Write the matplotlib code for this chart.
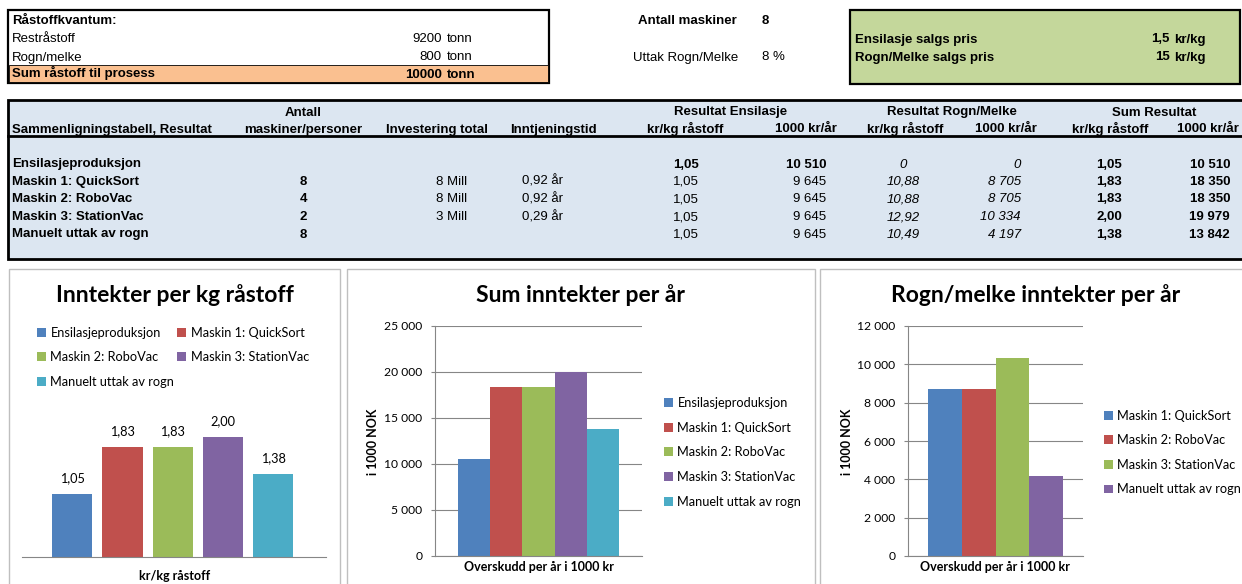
import matplotlib
matplotlib.use("Agg")
import matplotlib.pyplot as plt
from matplotlib.patches import Rectangle, Patch
from matplotlib.ticker import FuncFormatter, MultipleLocator

W, H = 1242, 584

# top input block
raw_labels = ["Restråstoff", "Rogn/melke"]
raw_tonn = [9200, 800]
raw_sum = 10000
antall_maskiner = 8
uttak_pct = 8
price_labels = ["Ensilasje salgs pris", "Rogn/Melke salgs pris"]
price_values = ["1,5", "15"]

# comparison table
categories = [
    "Ensilasjeproduksjon",
    "Maskin 1: QuickSort",
    "Maskin 2: RoboVac",
    "Maskin 3: StationVac",
    "Manuelt uttak av rogn",
]
antall = ["", "8", "4", "2", "8"]
investering = ["", "8 Mill", "8 Mill", "3 Mill", ""]
inntjening = ["", "0,92 år", "0,92 år", "0,29 år", ""]
ens_kr_kg = [1.05, 1.05, 1.05, 1.05, 1.05]
ens_1000 = [10510, 9645, 9645, 9645, 9645]
rogn_kr_kg = [0, 10.88, 10.88, 12.92, 10.49]
rogn_1000 = [0, 8705, 8705, 10334, 4197]
sum_kr_kg = [1.05, 1.83, 1.83, 2.00, 1.38]
sum_1000 = [10510, 18350, 18350, 19979, 13842]

colors = ["#4F81BD", "#C0504D", "#9BBB59", "#8064A2", "#4BACC6"]

TABLE_FONT = ["Liberation Sans Narrow", "Liberation Sans", "DejaVu Sans"]
CHART_FONT = ["Lato", "DejaVu Sans"]
GRAY = "#868686"


def dec(v):
    return "0" if v == 0 else f"{v:.2f}".replace(".", ",")


def thousands(v, pos=None):
    return f"{v:,.0f}".replace(",", " ")


fig = plt.figure(figsize=(W / 100, H / 100), dpi=100)
bg = fig.add_axes([0, 0, 1, 1])
bg.set_xlim(0, W)
bg.set_ylim(H, 0)
bg.axis("off")


def cell(x, y, s, ha="left", weight="normal", style="normal", size=9.5):
    # y is the visual middle of the row; text sits on a shared baseline
    bg.text(x, y + 4.5, s, ha=ha, va="baseline", fontsize=size, fontweight=weight,
            fontstyle=style, family=TABLE_FONT, color="black")


def px_axes(x0, y0, x1, y1):
    return fig.add_axes([x0 / W, 1 - y1 / H, (x1 - x0) / W, (y1 - y0) / H])


# --- top left box
bg.add_patch(Rectangle((8, 10), 541, 73, facecolor="white", edgecolor="black", lw=1.6))
bg.add_patch(Rectangle((9, 65), 539, 17, facecolor="#FAC090", edgecolor="black", lw=0.6))
cell(12, 20, "Råstoffkvantum:", weight="bold")
for i, (lab, t) in enumerate(zip(raw_labels, raw_tonn)):
    y = 38 + i * 18
    cell(12, y, lab)
    cell(442, y, str(t), ha="right")
    cell(447, y, "tonn")
cell(12, 73, "Sum råstoff til prosess", weight="bold")
cell(442, 73, str(raw_sum), ha="right", weight="bold")
cell(447, 73, "tonn", weight="bold")

# --- middle info
cell(737, 20, "Antall maskiner", ha="right", weight="bold")
cell(762, 20, str(antall_maskiner), weight="bold")
cell(738, 56, "Uttak Rogn/Melke", ha="right")
cell(762, 56, f"{uttak_pct} %")

# --- green price box
bg.add_patch(Rectangle((850, 10), 390, 74, facecolor="#C4D79B", edgecolor="black", lw=1.6))
for i, (lab, v) in enumerate(zip(price_labels, price_values)):
    y = 38 + i * 18
    cell(855, y, lab, weight="bold")
    cell(1170, y, v, ha="right", weight="bold")
    cell(1174, y, "kr/kg", weight="bold")

# --- comparison table
bg.add_patch(Rectangle((8, 100), 1250, 159, facecolor="#DCE6F1", edgecolor="black", lw=2))
bg.plot([8, 1250], [136, 136], color="black", lw=2)
cell(303, 112, "Antall", ha="center", weight="bold")
cell(731, 111, "Resultat Ensilasje", ha="center", weight="bold")
cell(952, 111, "Resultat Rogn/Melke", ha="center", weight="bold")
cell(1154, 111, "Sum Resultat", ha="center", weight="bold")
header = [
    (12, "Sammenligningstabell, Resultat", "left"),
    (303, "maskiner/personer", "center"),
    (437, "Investering total", "center"),
    (553, "Inntjeningstid", "center"),
    (685, "kr/kg råstoff", "center"),
    (806, "1000 kr/år", "center"),
    (905, "kr/kg råstoff", "center"),
    (1006, "1000 kr/år", "center"),
    (1110, "kr/kg råstoff", "center"),
    (1208, "1000 kr/år", "center"),
]
for x, s, ha in header:
    cell(x, 128, s, ha=ha, weight="bold")

for i, cat in enumerate(categories):
    y = 163 + i * 17.5
    first = "bold" if i == 0 else "normal"
    cell(12, y, cat, weight="bold")
    cell(303, y, antall[i], ha="center", weight="bold")
    cell(467, y, investering[i], ha="right")
    cell(522, y, inntjening[i])
    cell(686, y, dec(ens_kr_kg[i]), ha="center", weight=first)
    cell(826, y, thousands(ens_1000[i]), ha="right", weight=first)
    cell(903, y, dec(rogn_kr_kg[i]), ha="center", style="italic")
    cell(1021, y, thousands(rogn_1000[i]), ha="right", style="italic")
    cell(1109, y, dec(sum_kr_kg[i]), ha="center", weight="bold")
    cell(1230, y, thousands(sum_1000[i]), ha="right", weight="bold")

# --- chart panels
for x0, x1 in [(9, 340), (347, 815), (820, 1250)]:
    bg.add_patch(Rectangle((x0, 269), x1 - x0, 330, facecolor="white", edgecolor="#BFBFBF", lw=1))


def chart_text(x, y, s, size=9, weight="normal", **kw):
    bg.text(x, y, s, ha="center", va="center", fontsize=size, fontweight=weight,
            family=CHART_FONT, **kw)


def square_legend(ax, labels, cols, anchor, ncol=1, labelspacing=1.0, colspacing=0.8):
    handles = [Patch(facecolor=c, edgecolor="none", label=l) for l, c in zip(labels, cols)]
    leg = ax.legend(handles=handles, loc="upper left", bbox_to_anchor=anchor,
                    bbox_transform=bg.transData, ncol=ncol, frameon=False,
                    handlelength=0.7, handleheight=0.7, handletextpad=0.35,
                    labelspacing=labelspacing, columnspacing=colspacing,
                    borderpad=0, borderaxespad=0,
                    prop={"family": CHART_FONT, "size": 9.2})
    return leg


# chart 1: kr/kg
ax1 = px_axes(22, 380, 326, 557)
xs = list(range(len(categories)))
bars = ax1.bar(xs, sum_kr_kg, width=0.8, color=colors)
ax1.bar_label(bars, labels=[dec(v) for v in sum_kr_kg], padding=7,
              fontsize=9.2, family=CHART_FONT)
ax1.set_xlim(-1.0, 5.05)
ax1.set_ylim(0, (557 - 380) / 60)
ax1.set_yticks([])
ax1.set_xticks([])
for s in ["top", "right", "left"]:
    ax1.spines[s].set_visible(False)
ax1.spines["bottom"].set_color(GRAY)
chart_text(175, 295, "Inntekter per kg råstoff", size=16.5, weight="bold")
chart_text(175, 576, "kr/kg råstoff", weight="bold")
order = [0, 2, 4, 1, 3]
square_legend(ax1, [categories[k] for k in order], [colors[k] for k in order],
              (37, 327), ncol=2, labelspacing=0.97, colspacing=0.25)


def value_chart(rect, values, labels, cols, ymax, step, title, title_x, ylab_x, leg_anchor):
    ax = px_axes(*rect)
    n = len(values)
    w = 0.775 / n
    for i, (v, c) in enumerate(zip(values, cols)):
        ax.bar((i - (n - 1) / 2) * w, v, width=w, color=c)
    ax.set_xlim(-0.5, 0.5)
    ax.set_ylim(0, ymax)
    ax.yaxis.set_major_locator(MultipleLocator(step))
    ax.yaxis.set_major_formatter(FuncFormatter(thousands))
    ax.set_xticks([])
    ax.grid(axis="y", color=GRAY, lw=0.8)
    ax.set_axisbelow(True)
    for s in ["top", "right"]:
        ax.spines[s].set_visible(False)
    for s in ["left", "bottom"]:
        ax.spines[s].set_color(GRAY)
    ax.tick_params(axis="y", length=3, color=GRAY, pad=6, labelsize=8.7)
    for t in ax.get_yticklabels():
        t.set_family(CHART_FONT)
    cx = (rect[0] + rect[2]) / 2
    chart_text(title_x, 295, title, size=16.5, weight="bold")
    chart_text(cx, 567, "Overskudd per år i 1000 kr", weight="bold")
    chart_text(ylab_x, 442, "i 1000 NOK", weight="bold", rotation=90)
    square_legend(ax, labels, cols, leg_anchor, labelspacing=0.99)
    return ax


value_chart((435, 326, 642, 556), sum_1000, categories, colors, 25000, 5000,
            "Sum inntekter per år", 580, 373, (664, 397))
value_chart((908, 326, 1083, 556), rogn_1000[1:], categories[1:], colors[:4], 12000, 2000,
            "Rogn/melke inntekter per år", 1036, 847, (1104, 409.5))

fig.savefig("out.png", dpi=100, facecolor="white")
